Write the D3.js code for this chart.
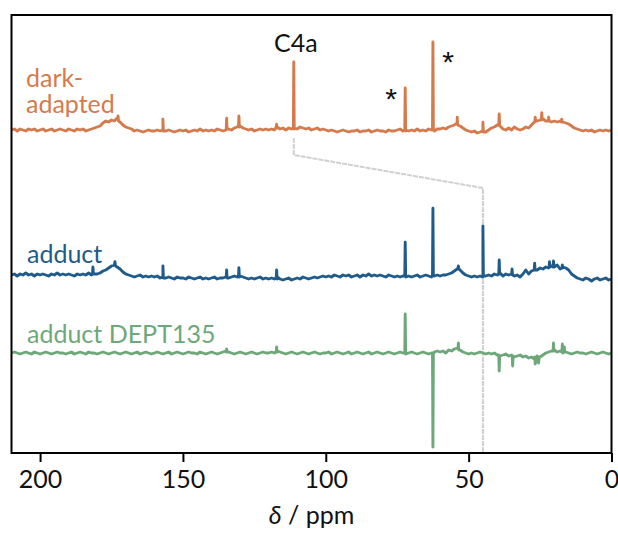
<!DOCTYPE html>
<html>
<head>
<meta charset="utf-8">
<script src="https://cdn.jsdelivr.net/npm/d3@7"></script>
<style>
  body { margin: 0; background: #fff; }
  text { font-family: Lato, "Open Sans", sans-serif; }
</style>
</head>
<body>
<div id="chart"></div>
<script>
// Data: baseline of each spectrum sampled every 1 ppm from 210 to 0 ppm,
// plus the sharp lines as [ppm, intensity] pairs (intensity in arbitrary units)

var ppmGrid = d3.range(210, -1, -1);

var darkBase = [
  0, 1, -1, 1, 0, -1, 1, 0, 1, -1,
  0, 1, -1, 0, 1, -1, 0, 1, 0, -1,
  1, 0, -1, 1, 0, 1, -1, 0, 1, 2,
  3, 4, 7, 9, 8, 10, 9, 12, 8, 5,
  3, 2, 1, -1, 0, -1, -2, -1, 0, -1,
  -1, 0, -1, 0, -1, 0, -1, -2, -1, 0,
  -1, 0, -2, -1, 0, -1, 1, -1, 0, -1,
  0, -1, 1, 0, -1, 0, 1, 0, 2, 3,
  4, 2, 1, 0, 1, -1, 0, 1, 0, 1,
  0, 1, 0, 3, 1, 2, 0, 2, 1, 2,
  1, 3, 2, 1, 2, 0, 1, 2, 0, 1,
  0, -1, 0, -1, -2, -1, 0, -1, -2, -1,
  -1, 0, -2, -1, -1, 0, -2, -1, 0, -1,
  -1, -2, 0, -1, -1, 0, 1, -1, 0, -1,
  0, -1, 1, -1, 0, -1, 1, 0, -1, 1,
  1, 2, 1, 3, 4, 5, 7, 4, 2, 0,
  -1, -2, -1, -3, -2, -1, -2, 0, 2, 3,
  5, 4, 1, 0, 2, 0, 3, 1, 0, 1,
  3, 2, 5, 8, 9, 10, 11, 9, 10, 8,
  9, 8, 9, 8, 7, 6, 4, 2, 1, 0,
  -1, 0, -1, 0, -2, -1, 0, -1, 0, -1, 0
];

var darkPeaks = [
  [172.85, 11], [172.7, 14], [172.55, 9],
  [157.15, 0], [157, 10.7], [156.85, -1],
  [134.85, 0], [134.7, 11.7], [134.55, 1],
  [130.55, 4], [130.4, 14], [130.25, 3],
  [117.35, 3], [117.2, 5.7], [117.05, 2],
  [111.35, 2], [111.2, 68], [111.05, 1],
  [72.35, 0], [72.2, 42], [72.05, -1],
  [62.65, 1], [62.5, 88], [62.35, 0],
  [54.15, 7], [54, 12.7], [53.85, 5],
  [45.15, -1], [45, 7.7], [44.85, -2],
  [39.45, 5], [39.3, 16], [39.15, 4],
  [26.85, 8], [26.7, 12.7], [26.55, 9],
  [24.55, 10], [24.4, 17.3], [24.25, 11],
  [22.15, 9], [22, 12.7], [21.85, 9],
  [17.55, 8], [17.4, 10.7], [17.25, 8]
];

var adductBase = [
  2, 3, 1, 3, 2, 4, 2, 3, 1, 3,
  2, 3, 2, 1, 3, 2, 4, 2, 3, 2,
  3, 2, 1, 3, 2, 3, 2, 4, 2, 3,
  3, 4, 6, 7, 9, 11, 12, 10, 8, 5,
  3, 2, 1, 0, 1, 2, 0, 1, 0, 1,
  0, 1, -1, 0, -1, 0, -1, -2, 0, -1,
  -1, -2, 0, -1, -2, -1, 0, -2, -1, -2,
  -1, 0, -2, -1, -1, 0, -1, 0, 1, 0,
  1, 0, -1, -2, -1, -2, -1, 0, -2, -1,
  -2, -1, -2, 0, -2, -3, -2, -1, -3, -2,
  -1, -2, 0, -1, -2, -1, 0, -1, 0, 1,
  0, 1, 0, 2, 1, 0, 2, 1, 2, 0,
  1, 2, 0, 2, 1, 3, 1, 2, 1, 2,
  1, 0, 2, 1, 0, 1, 0, 1, 0, 1,
  0, 1, 2, 0, 1, 2, 1, 0, 1, 2,
  1, 2, 2, 3, 4, 6, 8, 7, 4, 2,
  1, 0, 1, 0, 1, 0, 1, 2, 1, 3,
  2, 4, 1, 3, 2, 3, 1, 2, 0, 3,
  7, 3, 6, 8, 7, 9, 8, 10, 9, 11,
  10, 12, 8, 10, 9, 7, 3, 1, -1, -2,
  -3, -1, -2, -4, -2, -1, -3, -2, -1, -3, -2
];

var adductPeaks = [
  [181.65, 3], [181.5, 10], [181.35, 3],
  [174.0, 12], [173.8, 15.3], [173.6, 11],
  [157.15, 0], [157, 11], [156.85, -1],
  [134.85, 0], [134.7, 7], [134.55, -1],
  [130.55, 1], [130.4, 9.3], [130.25, 0],
  [117.35, -1], [117.2, 7], [117.05, -2],
  [72.35, 1], [72.2, 34.7], [72.05, 0],
  [62.65, 1], [62.5, 68.7], [62.35, 2],
  [53.75, 9], [53.6, 11], [53.45, 8],
  [45.15, 0], [45, 51], [44.85, 1],
  [39.45, 3], [39.3, 17], [39.15, 3],
  [34.95, 3], [34.8, 8], [34.65, 2],
  [27.05, 7], [26.9, 13.7], [26.75, 7],
  [21.85, 10], [21.7, 15.3], [21.55, 10],
  [20.45, 10], [20.3, 16], [20.15, 11],
  [17.35, 9], [17.2, 12], [17.05, 9]
];

var deptBase = [
  0, 1, 0, -1, 0, 1, 0, -1, 1, 0,
  -1, 0, 1, 0, -1, 0, 1, 0, 0, -1,
  0, 1, -1, 0, 1, 0, -1, 1, 0, 0,
  -1, 0, 1, 0, -1, 0, 1, 0, -1, 0,
  1, 0, -1, 0, 1, -1, 0, 1, 0, -1,
  0, 1, 0, -1, 0, 1, -1, 0, 1, 0,
  -1, 0, 1, 0, 0, -1, 1, 0, -1, 0,
  1, 0, -1, 0, 1, 2, 1, 0, -1, 0,
  1, 0, -1, 0, 1, 0, -1, 0, 1, 0,
  0, 1, 0, 2, 1, 0, -1, 0, 1, 0,
  -1, 0, 1, 0, -1, 0, 1, 0, -1, 0,
  0, 1, -1, 0, 1, 0, -1, 0, 1, -1,
  0, 1, 0, -1, 0, 1, -1, 0, 1, 0,
  -1, 0, 1, 0, -1, 0, 1, 0, -1, 0,
  1, 0, -1, 0, 1, 0, -1, 0, 1, 2,
  1, 2, 0, 3, 2, 4, 5, 3, 1, 0,
  -1, 0, -1, 0, 1, 0, -1, 0, -1, 0,
  -2, -3, -2, -1, -3, -2, -4, -3, -2, -4,
  -3, -5, -4, -6, -3, -4, -2, 0, 1, 2,
  3, 1, 2, 0, 1, 0, -1, 0, 1, 0,
  0, -1, 0, 1, 0, -1, 0, 1, 0, -1, 0
];

var deptPeaks = [
  [134.85, 1], [134.7, 4], [134.55, 1],
  [117.35, 1], [117.2, 6], [117.05, 1],
  [72.35, 0], [72.2, 39], [72.05, 0],
  [62.65, 0], [62.5, -94], [62.35, -1],
  [53.75, 4], [53.6, 10], [53.45, 3],
  [39.45, -2], [39.3, -18], [39.15, -3],
  [34.75, -3], [34.6, -13], [34.45, -3],
  [26.85, -4], [26.7, -11], [25.5, -10], [25.35, -4],
  [20.45, 2], [20.3, 10], [20.15, 2],
  [17.35, 1], [17.2, 9], [17.05, 1],
  [16.6, 1], [16.5, 6], [16.4, 1]
];

var spectra = [
  { name: "dark-adapted", lines: ["dark-", "adapted"], offset: 323, color: "#d47a4c", base: darkBase, peaks: darkPeaks },
  { name: "adduct", lines: ["adduct"], offset: 176, color: "#1f5b8a", base: adductBase, peaks: adductPeaks },
  { name: "adduct DEPT135", lines: ["adduct DEPT135"], offset: 100, color: "#6ea87a", base: deptBase, peaks: deptPeaks }
];

// C4a shift: dark-adapted -> adduct
var connector = [[111.2, 315], [111.2, 298], [45, 265], [45, 0]];

var xTicks = [200, 150, 100, 50, 0];

// Layout

var width = 618, height = 533;
var margin = {top: 15, right: 6.5, bottom: 80, left: 11.5};
var plotW = width - margin.left - margin.right;
var plotH = height - margin.top - margin.bottom;

var x = d3.scaleLinear()
    .domain([210, 0])
    .range([0, plotW]);

var y = d3.scaleLinear()
    .domain([0, 438])
    .range([plotH, 0]);

var svg = d3.select("#chart").append("svg")
    .attr("width", width)
    .attr("height", height);

var g = svg.append("g")
    .attr("transform", "translate(" + margin.left + "," + margin.top + ")");

svg.append("defs").append("clipPath")
    .attr("id", "clip")
    .append("rect")
    .attr("width", plotW)
    .attr("height", plotH);

var line = d3.line()
    .x(function(d) { return x(d[0]); })
    .y(function(d) { return y(d[1]); });

// connector line
g.append("path")
    .datum(connector)
    .attr("d", line)
    .attr("fill", "none")
    .attr("stroke", "#d0d0d0")
    .attr("stroke-width", 2)
    .attr("stroke-dasharray", "5,1");

// spectra
spectra.forEach(function(s) {
  var pts = ppmGrid.map(function(p, i) { return [p, s.base[i]]; })
      .concat(s.peaks)
      .sort(function(a, b) { return b[0] - a[0]; })
      .map(function(d) { return [d[0], d[1] + s.offset]; });

  g.append("path")
      .datum(pts)
      .attr("clip-path", "url(#clip)")
      .attr("d", line)
      .attr("fill", "none")
      .attr("stroke", s.color)
      .attr("stroke-width", 2.9)
      .attr("stroke-linejoin", "round");
});

// labels
var labelPos = {
  "dark-adapted": [26, 87],
  "adduct": [27, 263],
  "adduct DEPT135": [27, 343]
};

spectra.forEach(function(s) {
  var p = labelPos[s.name];
  s.lines.forEach(function(l, i) {
    svg.append("text")
        .attr("x", p[0])
        .attr("y", p[1] + i * 26)
        .attr("fill", s.color)
        .style("font-size", "25px")
        .text(l);
  });
});

svg.append("text")
    .attr("x", margin.left + x(111.2) + 2)
    .attr("y", 52)
    .attr("text-anchor", "middle")
    .style("font-size", "25px")
    .attr("fill", "#111")
    .text("C4a");

svg.append("text")
    .attr("x", 391)
    .attr("y", 109)
    .attr("text-anchor", "middle")
    .style("font-size", "30px")
    .style("font-family", "'Liberation Sans', sans-serif")
    .attr("fill", "#111")
    .text("*");

svg.append("text")
    .attr("x", 448)
    .attr("y", 72)
    .attr("text-anchor", "middle")
    .style("font-size", "30px")
    .style("font-family", "'Liberation Sans', sans-serif")
    .attr("fill", "#111")
    .text("*");

// frame
g.append("rect")
    .attr("width", plotW)
    .attr("height", plotH)
    .attr("fill", "none")
    .attr("stroke", "#000")
    .attr("stroke-width", 2);

// x axis
var xAxis = d3.axisBottom(x)
    .tickValues(xTicks)
    .tickSize(9)
    .tickPadding(8);

var ax = g.append("g")
    .attr("transform", "translate(0," + plotH + ")")
    .call(xAxis);

ax.select(".domain").remove();
ax.selectAll("line").attr("stroke", "#000").attr("stroke-width", 2);
ax.selectAll("text")
    .style("font-size", "25px")
    .style("font-family", "Lato, sans-serif")
    .attr("fill", "#111");

var xl = svg.append("text")
    .attr("x", margin.left + plotW / 2)
    .attr("y", 524)
    .attr("text-anchor", "middle")
    .style("font-size", "25px")
    .attr("fill", "#111");
xl.append("tspan").style("font-style", "italic").text("δ");
xl.append("tspan").text(" / ppm");
</script>
</body>
</html>
